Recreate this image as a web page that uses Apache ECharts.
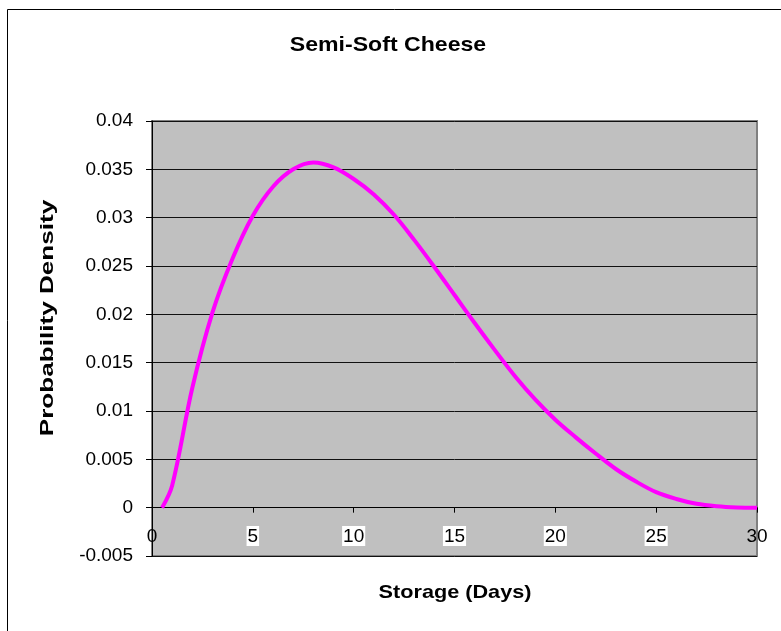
<!DOCTYPE html>
<html>
<head>
<meta charset="utf-8">
<script src="https://cdn.jsdelivr.net/npm/echarts@6/dist/echarts.min.js"></script>
<style>html,body{margin:0;padding:0;background:#fff;}#c{width:781px;height:631px;}</style>
</head>
<body>
<div id="c"></div>
<script>
const chartTitle = 'Semi-Soft Cheese';
const xAxisTitle = 'Storage (Days)';
const yAxisTitle = 'Probability Density';
const xTicks = [0, 5, 10, 15, 20, 25, 30];
const yTicks = [-0.005, 0, 0.005, 0.01, 0.015, 0.02, 0.025, 0.03, 0.035, 0.04];
const days = [0.5, 1, 2, 3, 4, 5, 6, 7, 8, 9, 10, 11, 12, 13, 14, 15, 16, 17, 18, 19, 20, 21, 22, 23, 24, 25, 26, 27, 28, 29, 30];
const density = [0, 0.0023, 0.0124, 0.0202, 0.0258, 0.0302, 0.0332, 0.0350, 0.0357, 0.0352, 0.0340, 0.0324, 0.0303, 0.0277, 0.0249, 0.0220, 0.0191, 0.0163, 0.0136, 0.0112, 0.0091, 0.0073, 0.0056, 0.0040, 0.0027, 0.0016, 0.0009, 0.0004, 0.00015, 0.00003, 0];

const chart = echarts.init(document.getElementById('c'));
const fontFamily = 'Liberation Sans, Arial, sans-serif';
chart.setOption({
  animation: false,
  backgroundColor: '#fff',
  grid: {
    left: 152, right: 24, top: 121, bottom: 75, outerBoundsMode: 'none', containLabel: false,
    show: true, backgroundColor: '#C0C0C0', borderColor: '#808080', borderWidth: 2
  },
  xAxis: {
    type: 'value', min: xTicks[0], max: xTicks[xTicks.length - 1], interval: 5,
    axisLine: { show: true, onZero: true, lineStyle: { color: '#000', width: 1 } },
    axisTick: { show: true, length: 5, lineStyle: { color: '#000' } },
    splitLine: { show: false },
    axisLabel: {
      margin: -30, fontFamily, fontSize: 19, color: '#000',
      formatter: function (v) { return (v === 0 || v === 30) ? '{n|' + v + '}' : '{w|' + v + '}'; },
      rich: {
        w: { backgroundColor: '#fff', padding: [1, 1, 0, 1], fontSize: 19, fontFamily, color: '#000' },
        n: { padding: [1, 1, 0, 1], fontSize: 19, fontFamily, color: '#000' }
      }
    }
  },
  yAxis: {
    type: 'value', min: yTicks[0], max: yTicks[yTicks.length - 1], interval: 0.005,
    axisLine: { show: true, onZero: false, lineStyle: { color: '#000', width: 1 } },
    axisTick: { show: true, length: 6, lineStyle: { color: '#000' } },
    splitLine: { show: true, lineStyle: { color: '#111', width: 1 } },
    axisLabel: { margin: 19, fontFamily, fontSize: 19, color: '#000',
      formatter: function (v) { return String(+v.toFixed(3)); } }
  },
  graphic: [
    { type: 'rect', shape: { x: 7.5, y: 9.5, width: 800, height: 700 }, style: { fill: 'none', stroke: '#000', lineWidth: 1 }, z: -1 },
    { type: 'text', x: 388, y: 45, scaleX: 1.1,
      style: { text: chartTitle, fontFamily, fontSize: 21, fontWeight: 'bold', fill: '#000', align: 'center', verticalAlign: 'middle' } },
    { type: 'text', x: 455, y: 593, scaleX: 1.14,
      style: { text: xAxisTitle, fontFamily, fontSize: 19, fontWeight: 'bold', fill: '#000', align: 'center', verticalAlign: 'middle' } },
    { type: 'text', x: 48, y: 318, rotation: Math.PI / 2, scaleX: 1.45,
      style: { text: yAxisTitle, fontFamily, fontSize: 18, fontWeight: 'bold', fill: '#000', align: 'center', verticalAlign: 'middle' } }
  ],
  series: [{
    type: 'line', data: days.map((d, i) => [d, density[i]]),
    smooth: 0.35, showSymbol: false, symbol: 'none',
    lineStyle: { color: '#FF00FF', width: 4 }
  }]
});
</script>
</body>
</html>
